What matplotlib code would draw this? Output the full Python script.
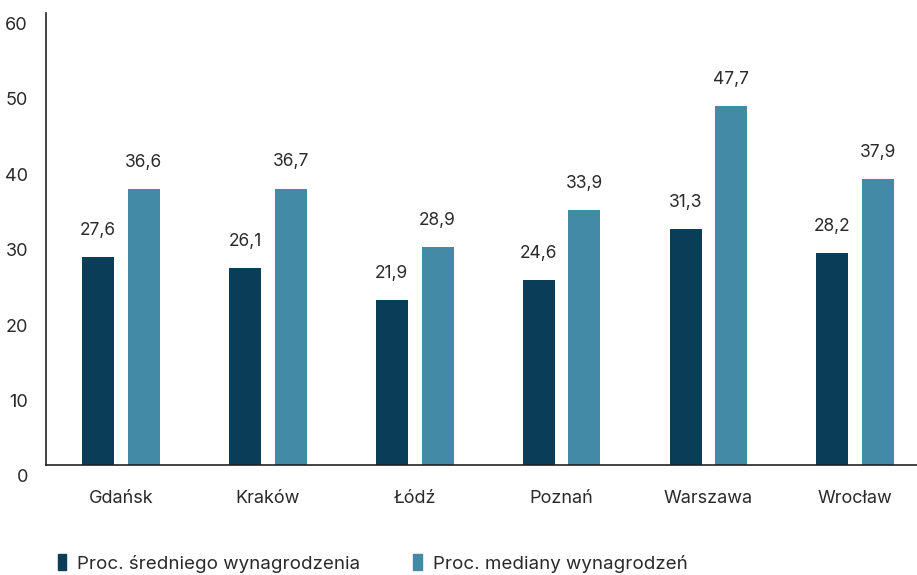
import numpy as np
import matplotlib
matplotlib.use("Agg")
from matplotlib import pyplot as plt
from matplotlib.patches import Patch
from matplotlib.transforms import ScaledTranslation

cities = ["Gdańsk", "Kraków", "Łódź", "Poznań", "Warszawa", "Wrocław"]
srednie = [27.6, 26.1, 21.9, 24.6, 31.3, 28.2]
mediana = [36.6, 36.7, 28.9, 33.9, 47.7, 37.9]
series_names = ["Proc. średniego wynagrodzenia", "Proc. mediany wynagrodzeń"]
y_ticks = [0, 10, 20, 30, 40, 50, 60]

dark = "#0a3e58"
light = "#438aa7"
text_col = "#2a2a2a"

plt.rcParams["font.family"] = ["Inter", "DejaVu Sans"]

fig = plt.figure(figsize=(9.17, 5.75), dpi=100)
ax = fig.add_axes([0.0502, 0.1913, 0.9498, 0.7861])

x = np.arange(len(cities))
w = 0.218
off = 0.156
b1 = ax.bar(x - off, srednie, w, color=dark)
b2 = ax.bar(x + off, mediana, w, color=light)

for bars, vals in ((b1, srednie), (b2, mediana)):
    for bar, v in zip(bars, vals):
        ax.annotate(f"{v:.1f}".replace(".", ","),
                    (bar.get_x() + bar.get_width() / 2, v),
                    xytext=(0, 13), textcoords="offset points",
                    ha="center", va="bottom", fontsize=12.5, color=text_col)

ax.set_xlim(-0.51, 5.42)
ax.set_ylim(0, 60)

# y labels drawn by hand, hanging a little below each tick value
ax.set_yticks(y_ticks)
ax.set_yticklabels([])
ylab_tr = ax.get_yaxis_transform() + ScaledTranslation(-13 / 72, -3 / 72, fig.dpi_scale_trans)
for t in y_ticks:
    ax.text(0, t, str(t), transform=ylab_tr, ha="right", va="top",
            fontsize=13, color=text_col, clip_on=False)

ax.set_xticks(x)
ax.set_xticklabels(cities, fontsize=13, color=text_col)
ax.tick_params(axis="both", length=0)
ax.tick_params(axis="x", pad=18)

for s in ("top", "right"):
    ax.spines[s].set_visible(False)
for s in ("left", "bottom"):
    ax.spines[s].set_color("#222222")
    ax.spines[s].set_linewidth(1.2)

handles = [Patch(color=dark), Patch(color=light)]
fig.legend(handles, series_names, loc="center left",
           bbox_to_anchor=(0.063, 0.02), ncol=2, frameon=False,
           fontsize=13.5, handlelength=0.45, handleheight=0.9,
           handletextpad=0.6, columnspacing=2.8,
           borderpad=0, borderaxespad=0, labelcolor=text_col)

fig.savefig("out.png", dpi=100)
